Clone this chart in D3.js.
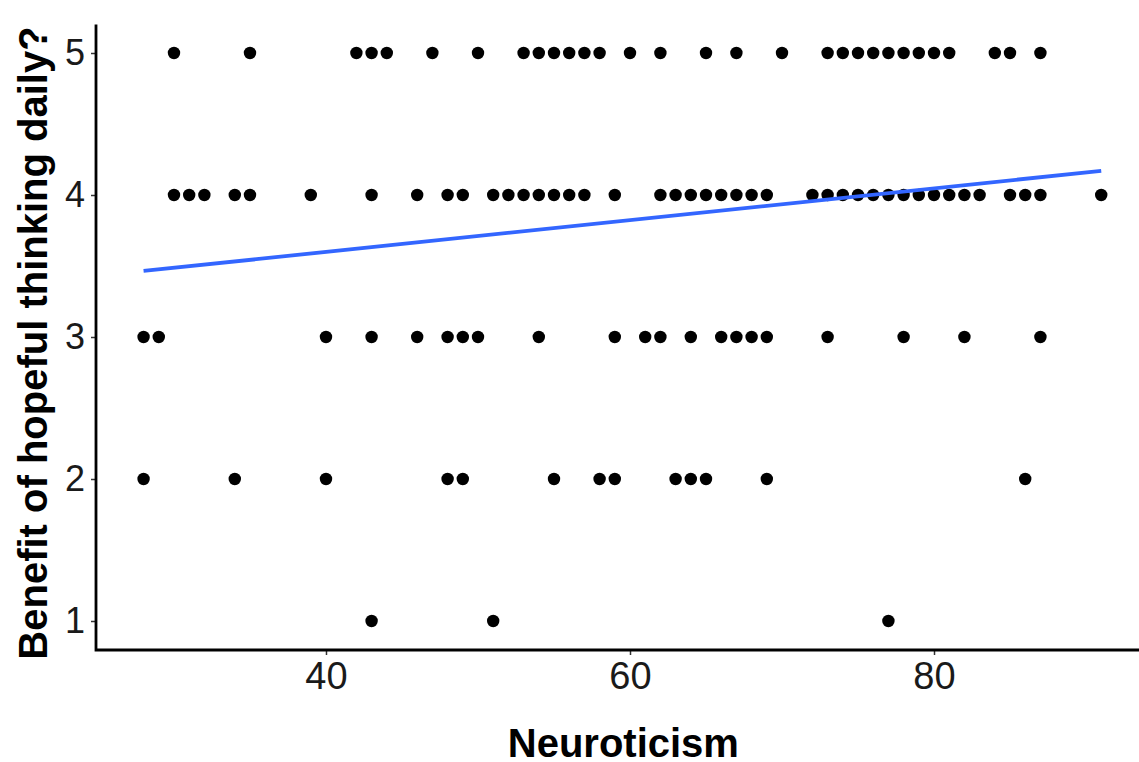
<!DOCTYPE html>
<html>
<head>
<meta charset="utf-8">
<script src="https://cdn.jsdelivr.net/npm/d3@7"></script>
<style>
  html, body { margin: 0; padding: 0; background: #fff; }
  svg { display: block; }
  text { font-family: "Liberation Sans", Arial, Helvetica, sans-serif; }
</style>
</head>
<body>
<svg id="chart" width="1139" height="762"></svg>
<script>
// Neuroticism scores observed at each answer level (y = 5, 4, 3, 2, 1)
const neuroAt5 = [30, 35, 42, 43, 44, 47, 50, 53, 54, 55, 56, 57, 58, 60, 62, 65, 67, 70,
                  73, 74, 75, 76, 77, 78, 79, 80, 81, 84, 85, 87];
const neuroAt4 = [30, 31, 32, 34, 35, 39, 43, 46, 48, 49, 51, 52, 53, 54, 55, 56, 57, 59,
                  62, 63, 64, 65, 66, 67, 68, 69, 72, 73, 74, 75, 76, 77, 78, 79, 80, 81,
                  82, 83, 85, 86, 87, 91];
const neuroAt3 = [28, 29, 40, 43, 46, 48, 49, 50, 54, 59, 61, 62, 64, 66, 67, 68, 69, 73,
                  78, 82, 87];
const neuroAt2 = [28, 34, 40, 48, 49, 55, 58, 59, 63, 64, 65, 69, 86];
const neuroAt1 = [43, 51, 77];
const levels = [5, 4, 3, 2, 1];
// fitted linear trend (at the ends of the line)
const fitX = [28, 91];
const fitY = [3.465, 4.17];
const xTicks = [40, 60, 80];
const yTicks = [1, 2, 3, 4, 5];
const xTitle = "Neuroticism";
const yTitle = "Benefit of hopeful thinking daily?";

const groups = [neuroAt5, neuroAt4, neuroAt3, neuroAt2, neuroAt1];
const points = [];
groups.forEach((arr, i) => arr.forEach(v => points.push({ x: v, y: levels[i] })));
const fit = fitX.map((v, i) => ({ x: v, y: fitY[i] }));

const svg = d3.select("#chart");
const x = d3.scaleLinear().domain([24.85, 94.15]).range([95.7, 1149.1]);
const y = d3.scaleLinear().domain([0.8, 5.2]).range([649.4, 24.6]);

// points
svg.append("g").selectAll("circle").data(points).join("circle")
  .attr("cx", d => x(d.x)).attr("cy", d => y(d.y)).attr("r", 6.2)
  .attr("fill", "#000");

// fit line
svg.append("path").datum(fit)
  .attr("d", d3.line().x(d => x(d.x)).y(d => y(d.y)))
  .attr("fill", "none").attr("stroke", "#3366FF").attr("stroke-width", 3.8);

// axes
const xAxis = svg.append("g").attr("transform", "translate(0,650)")
  .call(d3.axisBottom(x).tickValues(xTicks).tickSize(5).tickPadding(7).tickFormat(d3.format("d")));
xAxis.select(".domain").remove();
xAxis.selectAll("line").attr("stroke", "#333").attr("stroke-width", 1.5);
xAxis.selectAll("text").attr("font-size", 38).attr("fill", "#1a1a1a")
  .attr("font-family", "'Liberation Sans', Arial, sans-serif");

const yAxis = svg.append("g").attr("transform", "translate(96,0)")
  .call(d3.axisLeft(y).tickValues(yTicks).tickSize(5).tickPadding(6).tickFormat(d3.format("d")));
yAxis.select(".domain").remove();
yAxis.selectAll("line").attr("stroke", "#333").attr("stroke-width", 1.5);
yAxis.selectAll("text").attr("font-size", 36).attr("fill", "#1a1a1a")
  .attr("font-family", "'Liberation Sans', Arial, sans-serif");

// axis lines
svg.append("path")
  .attr("d", `M${96},${y(5.2)}V650H1139`)
  .attr("fill", "none").attr("stroke", "#000").attr("stroke-width", 2.8);

// titles
svg.append("text").attr("x", (x(24.85) + 1139) / 2 + 6).attr("y", 757)
  .attr("text-anchor", "middle").attr("font-size", 40).attr("font-weight", "bold")
  .attr("fill", "#000").text(xTitle);

svg.append("text")
  .attr("transform", `translate(47,${(y(0.8) + y(5.2)) / 2 + 6}) rotate(-90)`)
  .attr("text-anchor", "middle").attr("font-size", 40).attr("font-weight", "bold")
  .attr("fill", "#000").text(yTitle);
</script>
</body>
</html>
